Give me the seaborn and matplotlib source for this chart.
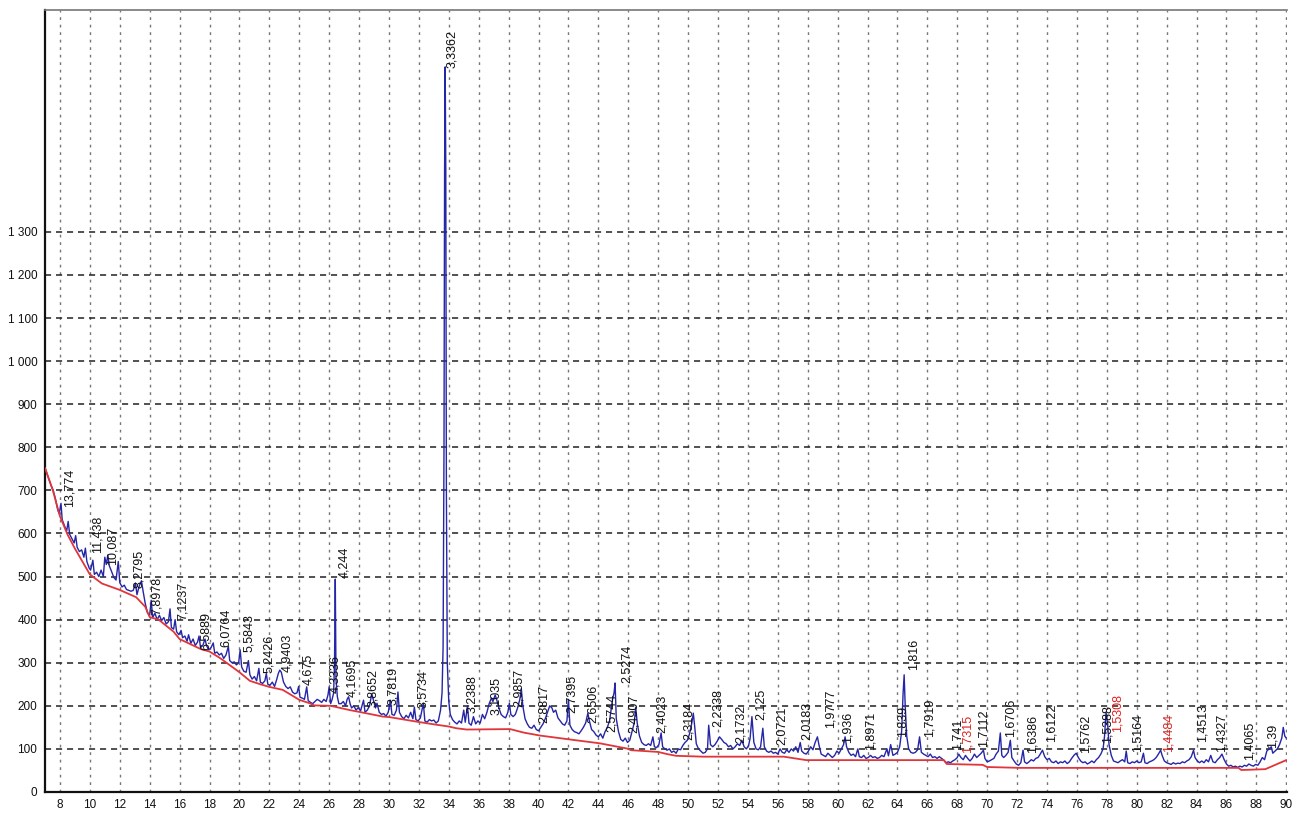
import numpy as np
import pandas as pd
import seaborn as sns
import matplotlib
matplotlib.use("Agg")
import matplotlib.pyplot as plt
from matplotlib.ticker import FixedLocator, FuncFormatter

# ---------------- data ----------------
scan_07_14 = [(7.0, 752), (7.2, 732), (7.4, 712), (7.55, 700), (7.7, 680), (7.85, 655), (7.95, 646),
              (8.07, 670), (8.15, 632), (8.3, 618), (8.45, 606), (8.55, 628), (8.65, 598), (8.8, 588),
              (8.95, 578), (9.05, 595), (9.15, 568), (9.3, 558), (9.45, 562), (9.6, 545), (9.7, 566),
              (9.8, 535), (9.95, 520), (10.05, 515), (10.2, 538), (10.3, 505), (10.45, 510), (10.6, 500),
              (10.75, 515), (10.9, 500), (11.0, 545), (11.1, 528), (11.2, 550), (11.3, 525), (11.45, 512),
              (11.6, 498), (11.75, 492), (11.9, 535), (12.0, 486), (12.15, 476), (12.3, 480), (12.45, 470),
              (12.6, 468), (12.75, 466), (12.9, 468), (13.05, 485), (13.15, 458), (13.3, 478), (13.45, 490),
              (13.55, 468), (13.7, 438), (13.85, 416), (14.0, 410)]
scan_14_26 = [(14.1, 445), (14.2, 405), (14.35, 415), (14.5, 400), (14.65, 410), (14.8, 398), (14.95, 405),
              (15.1, 390), (15.25, 395), (15.36, 425), (15.45, 382), (15.6, 378), (15.7, 400), (15.8, 372),
              (15.95, 365), (16.1, 375), (16.2, 358), (16.35, 362), (16.5, 350), (16.6, 365), (16.75, 345),
              (16.9, 355), (17.05, 340), (17.2, 348), (17.3, 362), (17.4, 335), (17.55, 340), (17.7, 355),
              (17.8, 340), (17.95, 330), (18.1, 335), (18.25, 346), (18.35, 322), (18.5, 325), (18.65, 318),
              (18.8, 322), (18.95, 310), (19.1, 318), (19.26, 338), (19.35, 305), (19.5, 300), (19.65, 302),
              (19.8, 295), (19.95, 300), (20.05, 330), (20.15, 290), (20.3, 280), (20.45, 278), (20.6, 305),
              (20.7, 272), (20.85, 262), (21.0, 268), (21.15, 258), (21.3, 287), (21.4, 255), (21.55, 252),
              (21.7, 258), (21.8, 275), (21.9, 250), (22.05, 248), (22.2, 255), (22.35, 245), (22.5, 262),
              (22.6, 275), (22.7, 283), (22.8, 278), (22.95, 255), (23.1, 245), (23.25, 240), (23.4, 244),
              (23.55, 232), (23.7, 228), (23.85, 230), (23.96, 245), (24.05, 220), (24.2, 218), (24.35, 215),
              (24.5, 244), (24.6, 212), (24.75, 208), (24.9, 205), (25.05, 210), (25.2, 215), (25.35, 212),
              (25.5, 208), (25.65, 215), (25.8, 210), (25.92, 225), (26.0, 244), (26.1, 205), (26.2, 215),
              (26.3, 230), (26.36, 300), (26.39, 407), (26.41, 494), (26.43, 407), (26.46, 260), (26.55, 221),
              (26.65, 205)]
scan_26_34 = [(26.8, 205), (26.95, 210), (27.1, 200), (27.2, 215), (27.3, 221), (27.4, 205), (27.5, 195),
              (27.65, 200), (27.8, 190), (27.95, 196), (28.1, 188), (28.3, 213), (28.4, 185), (28.55, 190),
              (28.7, 200), (28.85, 228), (28.95, 215), (29.1, 195), (29.2, 206), (29.35, 185), (29.5, 180),
              (29.65, 182), (29.8, 176), (29.95, 185), (30.1, 213), (30.2, 180), (30.35, 178), (30.5, 190),
              (30.6, 232), (30.7, 185), (30.85, 175), (31.0, 170), (31.15, 178), (31.3, 172), (31.45, 185),
              (31.6, 170), (31.7, 197), (31.8, 168), (31.95, 165), (32.1, 172), (32.3, 206), (32.4, 165),
              (32.55, 162), (32.7, 168), (32.85, 165), (33.0, 167), (33.15, 160), (33.3, 165), (33.45, 190),
              (33.55, 230), (33.62, 337), (33.68, 800), (33.72, 1444), (33.76, 1683), (33.80, 1444),
              (33.84, 700), (33.9, 300), (34.0, 210), (34.1, 180), (34.25, 168)]
scan_34_51 = [(34.4, 162), (34.55, 158), (34.7, 165), (34.85, 160), (35.0, 190), (35.1, 162), (35.25, 200),
              (35.35, 160), (35.5, 155), (35.65, 175), (35.8, 158), (35.95, 165), (36.1, 160), (36.25, 180),
              (36.4, 170), (36.55, 185), (36.7, 205), (36.85, 218), (36.95, 210), (37.1, 225), (37.2, 215),
              (37.35, 195), (37.5, 180), (37.65, 175), (37.8, 172), (37.95, 185), (38.05, 206), (38.15, 180),
              (38.3, 175), (38.45, 180), (38.6, 195), (38.75, 215), (38.85, 240), (38.95, 200), (39.1, 170),
              (39.25, 158), (39.4, 150), (39.55, 148), (39.7, 155), (39.85, 145), (40.0, 142), (40.15, 150),
              (40.3, 158), (40.45, 170), (40.6, 185), (40.75, 200), (40.9, 195), (41.0, 185), (41.15, 190),
              (41.3, 172), (41.45, 165), (41.6, 158), (41.75, 155), (41.9, 165), (42.0, 215), (42.1, 155),
              (42.25, 145), (42.4, 140), (42.55, 138), (42.7, 135), (42.85, 142), (43.0, 150), (43.15, 160),
              (43.3, 183), (43.4, 165), (43.55, 145), (43.7, 140), (43.85, 132), (44.0, 128), (44.15, 135),
              (44.3, 125), (44.45, 140), (44.6, 150), (44.75, 165), (44.85, 190), (44.95, 215), (45.05, 230),
              (45.12, 253), (45.2, 170), (45.35, 140), (45.5, 122), (45.65, 118), (45.8, 125), (45.95, 115),
              (46.1, 120), (46.25, 140), (46.4, 160), (46.5, 197), (46.6, 160), (46.75, 130), (46.9, 115),
              (47.05, 110), (47.2, 108), (47.35, 112), (47.5, 108), (47.65, 128), (47.75, 105), (47.9, 103),
              (48.05, 110), (48.2, 137), (48.3, 105), (48.45, 100), (48.6, 97), (48.75, 100), (48.9, 92),
              (49.05, 95), (49.2, 90), (49.35, 100), (49.5, 98), (49.65, 108), (49.8, 115), (49.95, 120),
              (50.1, 135), (50.25, 160), (50.35, 183), (50.45, 150), (50.55, 112), (50.7, 100)]
scan_51_70 = [(50.85, 95), (51.0, 90), (51.15, 92), (51.3, 100), (51.38, 155), (51.5, 110), (51.65, 105),
              (51.8, 110), (51.95, 118), (52.1, 128), (52.25, 122), (52.4, 115), (52.55, 112), (52.7, 105),
              (52.85, 108), (53.0, 100), (53.15, 105), (53.3, 112), (53.45, 108), (53.6, 120), (53.75, 105),
              (53.9, 100), (54.05, 108), (54.15, 125), (54.27, 175), (54.4, 115), (54.55, 100), (54.7, 98),
              (54.85, 105), (55.0, 148), (55.1, 105), (55.25, 95), (55.4, 92), (55.55, 95), (55.7, 90),
              (55.85, 92), (56.0, 88), (56.15, 100), (56.3, 92), (56.45, 90), (56.6, 98), (56.75, 92),
              (56.9, 100), (57.05, 95), (57.2, 105), (57.35, 92), (57.5, 115), (57.6, 95), (57.75, 90),
              (57.9, 88), (58.05, 95), (58.2, 105), (58.35, 98), (58.5, 115), (58.65, 128), (58.75, 110),
              (58.9, 88), (59.05, 85), (59.2, 82), (59.35, 90), (59.5, 85), (59.65, 80), (59.8, 85),
              (59.95, 95), (60.1, 90), (60.25, 100), (60.4, 110), (60.5, 128), (60.6, 105), (60.75, 92),
              (60.9, 85), (61.05, 88), (61.2, 82), (61.35, 100), (61.45, 82), (61.6, 80), (61.75, 85),
              (61.9, 78), (62.05, 80), (62.2, 85), (62.35, 80), (62.5, 82), (62.65, 78), (62.8, 80),
              (62.95, 85), (63.1, 82), (63.3, 100), (63.4, 84), (63.55, 110), (63.7, 85), (63.85, 88),
              (64.0, 92), (64.15, 105), (64.28, 140), (64.38, 230), (64.45, 272), (64.52, 200), (64.62, 130),
              (64.75, 100), (64.9, 92), (65.05, 90), (65.2, 92), (65.35, 98), (65.48, 128), (65.6, 92),
              (65.75, 88), (65.9, 85), (66.05, 82), (66.2, 88), (66.35, 80), (66.5, 82), (66.65, 78),
              (66.8, 82), (66.95, 78), (67.1, 74), (67.25, 68), (67.4, 70), (67.55, 68), (67.7, 72),
              (67.85, 75), (68.0, 80), (68.1, 88), (68.25, 80), (68.4, 75), (68.55, 85), (68.7, 78),
              (68.85, 72), (69.0, 78), (69.15, 88), (69.3, 80), (69.45, 85), (69.6, 90), (69.75, 97),
              (69.85, 78), (70.0, 70)]
scan_70_90 = [(70.15, 72), (70.3, 75), (70.45, 78), (70.6, 88), (70.75, 95), (70.88, 137), (70.98, 85),
              (71.1, 80), (71.25, 85), (71.4, 92), (71.55, 120), (71.65, 80), (71.8, 72), (71.95, 65),
              (72.1, 62), (72.25, 68), (72.4, 97), (72.5, 70), (72.65, 66), (72.8, 70), (72.95, 75),
              (73.1, 72), (73.25, 78), (73.4, 80), (73.55, 88), (73.7, 97), (73.85, 82), (74.0, 75),
              (74.15, 78), (74.3, 70), (74.45, 68), (74.6, 72), (74.75, 66), (74.9, 70), (75.05, 68),
              (75.2, 72), (75.35, 66), (75.5, 70), (75.65, 78), (75.8, 85), (75.95, 90), (76.1, 80),
              (76.25, 72), (76.4, 68), (76.55, 70), (76.7, 65), (76.85, 68), (77.0, 72), (77.15, 68),
              (77.3, 75), (77.45, 80), (77.6, 88), (77.75, 100), (77.85, 130), (77.95, 185), (78.05, 160),
              (78.15, 110), (78.3, 85), (78.45, 72), (78.6, 70), (78.75, 68), (78.9, 72), (79.05, 75),
              (79.2, 70), (79.3, 95), (79.4, 68), (79.55, 66), (79.7, 70), (79.85, 68), (80.0, 72),
              (80.15, 68), (80.3, 70), (80.45, 90), (80.55, 68), (80.7, 66), (80.85, 70), (81.0, 72),
              (81.15, 75), (81.3, 80), (81.45, 88), (81.6, 97), (81.7, 85), (81.85, 72), (82.0, 68),
              (82.15, 66), (82.3, 64), (82.45, 68), (82.6, 65), (82.75, 67), (82.9, 66), (83.05, 70),
              (83.2, 68), (83.35, 72), (83.5, 75), (83.65, 82), (83.8, 97), (83.9, 80), (84.05, 72),
              (84.2, 68), (84.35, 72), (84.5, 68), (84.65, 75), (84.8, 70), (84.95, 85), (85.1, 70),
              (85.25, 68), (85.4, 75), (85.55, 80), (85.7, 88), (85.85, 75), (86.0, 65), (86.15, 60),
              (86.3, 62), (86.45, 58), (86.6, 60), (86.75, 57), (86.9, 60), (87.05, 58), (87.2, 62),
              (87.35, 60), (87.5, 65), (87.65, 62), (87.8, 60), (87.95, 64), (88.1, 62), (88.25, 70),
              (88.4, 80), (88.55, 75), (88.7, 95), (88.85, 100), (89.0, 105), (89.1, 90), (89.25, 95),
              (89.4, 100), (89.55, 110), (89.7, 125), (89.8, 150), (89.9, 130), (90.0, 125)]

background = [(7.0, 752), (7.5, 703), (8.0, 640), (8.5, 598), (9.0, 565), (9.5, 535), (10.0, 505),
              (10.8, 484), (12.0, 469), (13.1, 452), (13.7, 430), (14.0, 406), (14.6, 400), (15.6, 372),
              (16.0, 355), (17.4, 332), (18.0, 326), (18.7, 311), (20.0, 278), (20.7, 258), (21.4, 250),
              (22.0, 244), (22.9, 237), (24.0, 214), (24.7, 206), (25.0, 201), (26.1, 200), (27.4, 190),
              (28.0, 186), (29.6, 175), (30.0, 174), (31.9, 163), (33.2, 156), (34.0, 152), (34.5, 148),
              (35.2, 145), (38.1, 146), (39.0, 138), (40.1, 131), (42.3, 121), (44.1, 113), (45.9, 101),
              (46.2, 97), (48.0, 93), (48.6, 88), (49.2, 84), (51.0, 82), (56.4, 82), (57.9, 74),
              (60.6, 74), (67.1, 74), (67.3, 65), (69.7, 63), (70.0, 58), (72.2, 56), (86.8, 56),
              (87.0, 51), (88.6, 53), (90.0, 74)]

# peak labels: d-spacing text, label centre (2theta), label foot (counts)
label_text = ["13,774", "11,438", "10,087", "8,2795", "7,8978", "7,1237", "6,5889", "6,0764", "5,5843",
              "5,2426", "4,9403", "4,675", "4,3336", "4,244", "4,1695", "3,8652", "3,7819", "3,5734",
              "3,3362", "3,2388", "3,1035", "2,9857", "2,8817", "2,7395", "2,6506", "2,5744", "2,5274",
              "2,4907", "2,4023", "2,3184", "2,2338", "2,1732", "2,125", "2,0721", "2,0183", "1,9777",
              "1,936", "1,8971", "1,839", "1,816", "1,7919", "1,741", "1,7315", "1,7112", "1,6706",
              "1,6386", "1,6122", "1,5762", "1,5388", "1,5308", "1,5164", "1,4484", "1,4513", "1,4327",
              "1,4065", "1,39"]
label_x = [8.67, 10.51, 11.55, 13.29, 14.49, 16.23, 17.77, 19.11, 20.65,
           21.98, 23.22, 24.59, 26.40, 27.00, 27.54, 28.94, 30.28, 32.28,
           34.20, 35.56, 37.17, 38.71, 40.38, 42.25, 43.66, 44.93, 45.93,
           46.40, 48.27, 50.08, 52.02, 53.56, 54.89, 56.30, 57.97, 59.51,
           60.65, 62.18, 64.32, 65.06, 66.13, 68.00, 68.67, 69.74, 71.55,
           73.02, 74.29, 76.56, 78.04, 78.74, 80.04, 82.12, 84.39, 85.66,
           87.54, 89.07]
label_y = [662, 555, 527, 474, 411, 399, 330, 337, 325,
           276, 279, 248, 230, 497, 221, 197, 202, 195,
           1681, 183, 179, 197, 160, 183, 160, 139, 253,
           137, 137, 121, 151, 114, 167, 109, 121, 149,
           114, 97, 128, 283, 128, 97, 91, 104, 128,
           91, 116, 91, 114, 139, 93, 93, 116, 93,
           74, 102]
red_labels = ["1,7315", "1,5308", "1,4484"]

x_ticks = list(range(8, 91, 2))
y_ticks = list(range(0, 1301, 100))

# ---------------- build frames ----------------
scan = scan_07_14 + scan_14_26 + scan_26_34 + scan_34_51 + scan_51_70 + scan_70_90
scan_df = pd.DataFrame(scan, columns=["two_theta", "counts"])
bg_df = pd.DataFrame(background, columns=["two_theta", "counts"])

# ---------------- style ----------------
sns.set_style("white")
plt.rcParams["font.family"] = ["Liberation Sans", "DejaVu Sans"]

fig = plt.figure(figsize=(13, 8.15), dpi=100)
ax = fig.add_axes([45 / 1300, 23 / 815, 1242 / 1300, 782 / 815])

XMIN, XMAX = 7.0, 90.05
YMAX = 1815

sns.lineplot(data=scan_df, x="two_theta", y="counts", ax=ax, color="#2525a8",
             linewidth=1.0, sort=False, estimator=None, zorder=3)
sns.lineplot(data=bg_df, x="two_theta", y="counts", ax=ax, color="#e0353a",
             linewidth=1.3, sort=False, estimator=None, zorder=4)

ax.set_xlim(XMIN, XMAX)
ax.set_ylim(0, YMAX)
ax.set_xlabel("")
ax.set_ylabel("")

# grid lines
for gx in x_ticks:
    ax.axvline(gx, color="#777777", lw=1.0, ls=(0, (2.0, 3.4)), zorder=1)
for gy in y_ticks[1:]:
    ax.axhline(gy, color="#222222", lw=1.1, ls=(0, (4.0, 3.2)), zorder=1)

# ticks
ax.xaxis.set_major_locator(FixedLocator(x_ticks))
ax.yaxis.set_major_locator(FixedLocator(y_ticks))
ax.yaxis.set_minor_locator(FixedLocator([v for v in range(20, 1381, 20) if v % 100 != 0]))
ax.yaxis.set_major_formatter(FuncFormatter(lambda v, p: f"{int(v):,}".replace(",", " ")))
ax.tick_params(axis="x", which="major", length=0, pad=5, labelsize=8.5, colors="#111111")
ax.tick_params(axis="y", which="major", direction="inout", length=7, width=1.0, pad=2,
               labelsize=8.5, colors="#111111")
ax.tick_params(axis="y", which="minor", direction="out", length=4, width=1.0, colors="#111111")

# spines
for side in ["left", "bottom"]:
    ax.spines[side].set_color("#111111")
    ax.spines[side].set_linewidth(1.6)
ax.spines["top"].set_color("#777777")
ax.spines["top"].set_linewidth(1.2)
ax.spines["right"].set_visible(False)

# peak labels
for txt, lx, ly in zip(label_text, label_x, label_y):
    col = "#e02020" if txt in red_labels else "#111111"
    ax.text(lx, ly, txt, rotation=90, ha="center", va="bottom", fontsize=9,
            color=col, zorder=5)

fig.savefig("out.png", dpi=100, facecolor="white")
